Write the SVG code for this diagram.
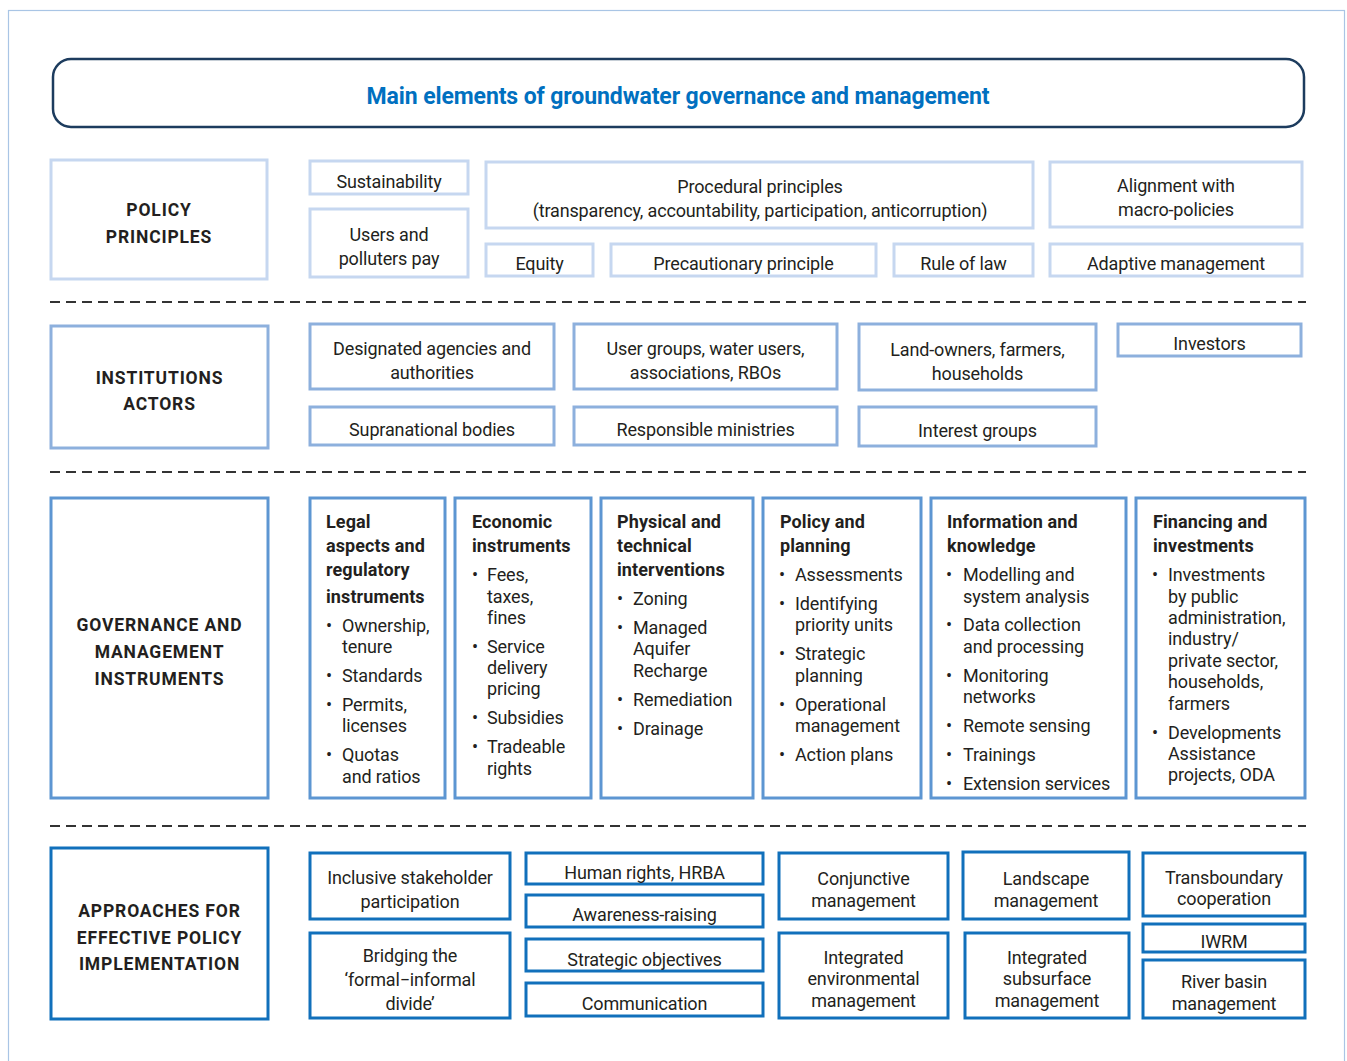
<svg xmlns="http://www.w3.org/2000/svg" width="1347" height="1061" viewBox="0 0 1347 1061">
<style>
text{font-family:Roboto,"Liberation Sans",sans-serif;fill:#231f20;transform:translate(0px,1px)}
.t{font-size:18px;text-anchor:middle;letter-spacing:-0.15px}
.l{font-size:17.5px;font-weight:700;text-anchor:middle;letter-spacing:0.85px}
.h{font-size:18px;font-weight:700;letter-spacing:0.1px}
.b{font-size:18px;letter-spacing:-0.12px}
.title{font-size:23px;font-weight:700;fill:#0070c0;text-anchor:middle;letter-spacing:-0.1px}
rect{fill:#fff}
.r1{stroke:#c6d7f0;stroke-width:3}
.r2{stroke:#8db0dd;stroke-width:3}
.r3{stroke:#5d96d2;stroke-width:3}
.r4{stroke:#1170bb;stroke-width:3}
.dash{stroke:#333;stroke-width:2;stroke-dasharray:10 6}
</style>
<rect x="8.5" y="10.5" width="1336" height="1060" fill="#fff" stroke="#a9c5e5" stroke-width="1.2"/>
<g id="title">
<rect x="53" y="59" width="1251" height="68" rx="18" fill="#fff" stroke="#1d3c5e" stroke-width="2.5"/>
<text class="title" x="678" y="103">Main elements of groundwater governance and management</text>
</g>
<g id="separators">
<line class="dash" x1="50" y1="302" x2="1306" y2="302"/>
<line class="dash" x1="50" y1="472" x2="1306" y2="472"/>
<line class="dash" x1="50" y1="826" x2="1306" y2="826"/>
</g>
<!-- Row 1 -->
<g id="policy-principles"><rect class="r1" x="51" y="160" width="216" height="119"/><text class="l" x="159" y="215">POLICY</text><text class="l" x="159" y="242">PRINCIPLES</text></g>
<g id="sustainability"><rect class="r1" x="310" y="161" width="158" height="33"/><text class="t" x="389" y="187">Sustainability</text></g>
<g id="users-pay"><rect class="r1" x="310" y="209" width="158" height="68"/><text class="t" x="389" y="240">Users and</text><text class="t" x="389" y="264">polluters pay</text></g>
<g id="procedural"><rect class="r1" x="486" y="162" width="547" height="66"/><text class="t" x="760" y="192">Procedural principles</text><text class="t" x="760" y="216">(transparency, accountability, participation, anticorruption)</text></g>
<g id="alignment"><rect class="r1" x="1050" y="162" width="252" height="65"/><text class="t" x="1176" y="191">Alignment with</text><text class="t" x="1176" y="215">macro-policies</text></g>
<g id="equity"><rect class="r1" x="486" y="244" width="107" height="32"/><text class="t" x="539.5" y="269">Equity</text></g>
<g id="precautionary"><rect class="r1" x="611" y="244" width="265" height="32"/><text class="t" x="743.5" y="269">Precautionary principle</text></g>
<g id="rule-of-law"><rect class="r1" x="894" y="244" width="139" height="32"/><text class="t" x="963.5" y="269">Rule of law</text></g>
<g id="adaptive"><rect class="r1" x="1050" y="244" width="252" height="32"/><text class="t" x="1176" y="269">Adaptive management</text></g>
<!-- Row 2 -->
<g id="institutions"><rect class="r2" x="51" y="326" width="217" height="122"/><text class="l" x="159.5" y="383">INSTITUTIONS</text><text class="l" x="159.5" y="409">ACTORS</text></g>
<g id="agencies"><rect class="r2" x="310" y="324" width="244" height="65"/><text class="t" x="432" y="354">Designated agencies and</text><text class="t" x="432" y="378">authorities</text></g>
<g id="user-groups"><rect class="r2" x="574" y="324" width="263" height="65"/><text class="t" x="705.5" y="354">User groups, water users,</text><text class="t" x="705.5" y="378">associations, RBOs</text></g>
<g id="land-owners"><rect class="r2" x="859" y="324" width="237" height="66"/><text class="t" x="977.5" y="355">Land-owners, farmers,</text><text class="t" x="977.5" y="379">households</text></g>
<g id="investors"><rect class="r2" x="1118" y="324" width="183" height="32"/><text class="t" x="1209.5" y="349">Investors</text></g>
<g id="supranational"><rect class="r2" x="310" y="407" width="244" height="38"/><text class="t" x="432" y="435">Supranational bodies</text></g>
<g id="ministries"><rect class="r2" x="574" y="407" width="263" height="38"/><text class="t" x="705.5" y="435">Responsible ministries</text></g>
<g id="interest-groups"><rect class="r2" x="859" y="407" width="237" height="39"/><text class="t" x="977.5" y="436">Interest groups</text></g>
<!-- Row 3 -->
<g id="governance"><rect class="r3" x="51" y="498" width="217" height="300"/><text class="l" x="159.5" y="630">GOVERNANCE AND</text><text class="l" x="159.5" y="657">MANAGEMENT</text><text class="l" x="159.5" y="684">INSTRUMENTS</text></g>
<g id="legal"><rect class="r3" x="310" y="498" width="135" height="300"/>
<text class="h" x="326" y="527">Legal</text><text class="h" x="326" y="551">aspects and</text><text class="h" x="326" y="575">regulatory</text><text class="h" x="326" y="602">instruments</text>
<text class="b" x="326" y="631">•</text><text class="b" x="342" y="631">Ownership,</text><text class="b" x="342" y="652">tenure</text>
<text class="b" x="326" y="681">•</text><text class="b" x="342" y="681">Standards</text>
<text class="b" x="326" y="710">•</text><text class="b" x="342" y="710">Permits,</text><text class="b" x="342" y="731">licenses</text>
<text class="b" x="326" y="760">•</text><text class="b" x="342" y="760">Quotas</text><text class="b" x="342" y="782">and ratios</text></g>
<g id="economic"><rect class="r3" x="455" y="498" width="136" height="300"/>
<text class="h" x="472" y="527">Economic</text><text class="h" x="472" y="551">instruments</text>
<text class="b" x="472" y="580">•</text><text class="b" x="487" y="580">Fees,</text><text class="b" x="487" y="602">taxes,</text><text class="b" x="487" y="623">fines</text>
<text class="b" x="472" y="652">•</text><text class="b" x="487" y="652">Service</text><text class="b" x="487" y="673">delivery</text><text class="b" x="487" y="694">pricing</text>
<text class="b" x="472" y="723">•</text><text class="b" x="487" y="723">Subsidies</text>
<text class="b" x="472" y="752">•</text><text class="b" x="487" y="752">Tradeable</text><text class="b" x="487" y="774">rights</text></g>
<g id="physical"><rect class="r3" x="601" y="498" width="152" height="300"/>
<text class="h" x="617" y="527">Physical and</text><text class="h" x="617" y="551">technical</text><text class="h" x="617" y="575">interventions</text>
<text class="b" x="617" y="604">•</text><text class="b" x="633" y="604">Zoning</text>
<text class="b" x="617" y="633">•</text><text class="b" x="633" y="633">Managed</text><text class="b" x="633" y="654">Aquifer</text><text class="b" x="633" y="676">Recharge</text>
<text class="b" x="617" y="705">•</text><text class="b" x="633" y="705">Remediation</text>
<text class="b" x="617" y="734">•</text><text class="b" x="633" y="734">Drainage</text></g>
<g id="policy-planning"><rect class="r3" x="763" y="498" width="158" height="300"/>
<text class="h" x="780" y="527">Policy and</text><text class="h" x="780" y="551">planning</text>
<text class="b" x="779" y="580">•</text><text class="b" x="795" y="580">Assessments</text>
<text class="b" x="779" y="609">•</text><text class="b" x="795" y="609">Identifying</text><text class="b" x="795" y="630">priority units</text>
<text class="b" x="779" y="659">•</text><text class="b" x="795" y="659">Strategic</text><text class="b" x="795" y="681">planning</text>
<text class="b" x="779" y="710">•</text><text class="b" x="795" y="710">Operational</text><text class="b" x="795" y="731">management</text>
<text class="b" x="779" y="760">•</text><text class="b" x="795" y="760">Action plans</text></g>
<g id="information"><rect class="r3" x="931" y="498" width="195" height="300"/>
<text class="h" x="947" y="527">Information and</text><text class="h" x="947" y="551">knowledge</text>
<text class="b" x="946" y="580">•</text><text class="b" x="963" y="580">Modelling and</text><text class="b" x="963" y="602">system analysis</text>
<text class="b" x="946" y="630">•</text><text class="b" x="963" y="630">Data collection</text><text class="b" x="963" y="652">and processing</text>
<text class="b" x="946" y="681">•</text><text class="b" x="963" y="681">Monitoring</text><text class="b" x="963" y="702">networks</text>
<text class="b" x="946" y="731">•</text><text class="b" x="963" y="731">Remote sensing</text>
<text class="b" x="946" y="760">•</text><text class="b" x="963" y="760">Trainings</text>
<text class="b" x="946" y="789">•</text><text class="b" x="963" y="789">Extension services</text></g>
<g id="financing"><rect class="r3" x="1136" y="498" width="169" height="300"/>
<text class="h" x="1153" y="527">Financing and</text><text class="h" x="1153" y="551">investments</text>
<text class="b" x="1152" y="580">•</text><text class="b" x="1168" y="580">Investments</text><text class="b" x="1168" y="602">by public</text><text class="b" x="1168" y="623">administration,</text><text class="b" x="1168" y="644">industry/</text><text class="b" x="1168" y="666">private sector,</text><text class="b" x="1168" y="687">households,</text><text class="b" x="1168" y="709">farmers</text>
<text class="b" x="1152" y="738">•</text><text class="b" x="1168" y="738">Developments</text><text class="b" x="1168" y="759">Assistance</text><text class="b" x="1168" y="780">projects, ODA</text></g>
<!-- Row 4 -->
<g id="approaches"><rect class="r4" x="51" y="848" width="217" height="171"/><text class="l" x="159.5" y="916">APPROACHES FOR</text><text class="l" x="159.5" y="943">EFFECTIVE POLICY</text><text class="l" x="159.5" y="969">IMPLEMENTATION</text></g>
<g id="inclusive"><rect class="r4" x="310" y="853" width="200" height="66"/><text class="t" x="410" y="883">Inclusive stakeholder</text><text class="t" x="410" y="907">participation</text></g>
<g id="bridging"><rect class="r4" x="310" y="933" width="200" height="85"/><text class="t" x="410" y="961">Bridging the</text><text class="t" x="410" y="985">‘formal−informal</text><text class="t" x="410" y="1009">divide’</text></g>
<g id="human-rights"><rect class="r4" x="526" y="853" width="237" height="31"/><text class="t" x="644.5" y="878">Human rights, HRBA</text></g>
<g id="awareness"><rect class="r4" x="526" y="895" width="237" height="32"/><text class="t" x="644.5" y="920">Awareness-raising</text></g>
<g id="strategic-objectives"><rect class="r4" x="526" y="939" width="237" height="32"/><text class="t" x="644.5" y="965">Strategic objectives</text></g>
<g id="communication"><rect class="r4" x="526" y="983" width="237" height="33"/><text class="t" x="644.5" y="1009">Communication</text></g>
<g id="conjunctive"><rect class="r4" x="779" y="853" width="169" height="66"/><text class="t" x="863.5" y="884">Conjunctive</text><text class="t" x="863.5" y="906">management</text></g>
<g id="integrated-env"><rect class="r4" x="779" y="933" width="169" height="85"/><text class="t" x="863.5" y="963">Integrated</text><text class="t" x="863.5" y="984">environmental</text><text class="t" x="863.5" y="1006">management</text></g>
<g id="landscape"><rect class="r4" x="963" y="852" width="166" height="67"/><text class="t" x="1046" y="884">Landscape</text><text class="t" x="1046" y="906">management</text></g>
<g id="integrated-sub"><rect class="r4" x="965" y="933" width="164" height="85"/><text class="t" x="1047" y="963">Integrated</text><text class="t" x="1047" y="984">subsurface</text><text class="t" x="1047" y="1006">management</text></g>
<g id="transboundary"><rect class="r4" x="1143" y="853" width="162" height="63"/><text class="t" x="1224" y="883">Transboundary</text><text class="t" x="1224" y="904">cooperation</text></g>
<g id="iwrm"><rect class="r4" x="1143" y="924" width="162" height="28"/><text class="t" x="1224" y="947">IWRM</text></g>
<g id="river-basin"><rect class="r4" x="1143" y="960" width="162" height="58"/><text class="t" x="1224" y="987">River basin</text><text class="t" x="1224" y="1009">management</text></g>
</svg>
